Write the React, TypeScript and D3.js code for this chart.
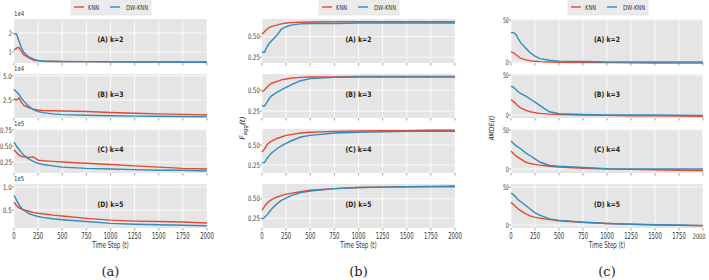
import React from 'react';
import * as d3 from 'd3';

// shared x values (time steps) and labels
const timeSteps = [0, 25, 50, 75, 100, 150, 200, 250, 300, 400, 500, 750, 1000, 1250, 1500, 1750, 2000];
const xTicks = [0, 250, 500, 750, 1000, 1250, 1500, 1750, 2000];
const seriesNames = ['KNN', 'DW-KNN'];
const panelTitles = ['(A) k=2', '(B) k=3', '(C) k=4', '(D) k=5'];
const captions = ['(a)', '(b)', '(c)'];

// (a) error, in units of the offset (1e4 / 1e5)
const errKnnK2 = [1.1, 1.2, 1.25, 1.05, 0.85, 0.7, 0.58, 0.53, 0.51, 0.5, 0.49, 0.49, 0.48, 0.48, 0.48, 0.48, 0.48];
const errDwK2 = [1.95, 1.95, 1.6, 1.25, 1.0, 0.75, 0.62, 0.56, 0.53, 0.51, 0.5, 0.49, 0.48, 0.47, 0.47, 0.46, 0.46];
const errKnnK3 = [2.6, 2.5, 2.7, 2.3, 1.95, 1.7, 1.55, 1.45, 1.4, 1.37, 1.35, 1.3, 1.2, 1.12, 1.05, 1.0, 0.94];
const errDwK3 = [3.6, 3.35, 3.1, 2.7, 2.4, 1.85, 1.5, 1.3, 1.18, 1.05, 0.97, 0.9, 0.85, 0.82, 0.8, 0.77, 0.74];
const errKnnK4 = [0.44, 0.4, 0.36, 0.34, 0.33, 0.32, 0.33, 0.28, 0.27, 0.26, 0.25, 0.23, 0.21, 0.19, 0.17, 0.15, 0.14];
const errDwK4 = [0.56, 0.5, 0.45, 0.4, 0.36, 0.3, 0.26, 0.23, 0.21, 0.19, 0.17, 0.15, 0.14, 0.13, 0.12, 0.12, 0.11];
const errKnnK5 = [0.67, 0.6, 0.55, 0.52, 0.5, 0.48, 0.45, 0.43, 0.42, 0.39, 0.37, 0.32, 0.28, 0.26, 0.25, 0.24, 0.22];
const errDwK5 = [0.82, 0.72, 0.62, 0.55, 0.5, 0.43, 0.39, 0.36, 0.34, 0.31, 0.29, 0.25, 0.21, 0.19, 0.18, 0.17, 0.16];

// (b) F_agg(t)
const fKnnK2 = [0.53, 0.56, 0.59, 0.61, 0.625, 0.64, 0.655, 0.665, 0.67, 0.675, 0.678, 0.68, 0.68, 0.68, 0.68, 0.68, 0.68];
const fDwK2 = [0.31, 0.31, 0.37, 0.42, 0.45, 0.51, 0.59, 0.62, 0.64, 0.655, 0.66, 0.66, 0.665, 0.665, 0.665, 0.665, 0.665];
const fKnnK3 = [0.48, 0.5, 0.53, 0.56, 0.58, 0.6, 0.62, 0.63, 0.64, 0.65, 0.655, 0.655, 0.66, 0.66, 0.66, 0.66, 0.66];
const fDwK3 = [0.31, 0.31, 0.35, 0.4, 0.43, 0.47, 0.5, 0.53, 0.56, 0.61, 0.635, 0.65, 0.655, 0.655, 0.655, 0.655, 0.655];
const fKnnK4 = [0.41, 0.45, 0.5, 0.53, 0.55, 0.58, 0.6, 0.62, 0.63, 0.65, 0.66, 0.67, 0.675, 0.68, 0.68, 0.685, 0.685];
const fDwK4 = [0.28, 0.28, 0.33, 0.37, 0.4, 0.45, 0.49, 0.52, 0.55, 0.6, 0.62, 0.65, 0.66, 0.665, 0.67, 0.67, 0.67];
const fKnnK5 = [0.35, 0.4, 0.44, 0.47, 0.49, 0.52, 0.54, 0.56, 0.57, 0.59, 0.61, 0.63, 0.645, 0.65, 0.655, 0.66, 0.665];
const fDwK5 = [0.24, 0.26, 0.29, 0.33, 0.37, 0.43, 0.48, 0.51, 0.54, 0.58, 0.6, 0.63, 0.645, 0.65, 0.655, 0.655, 0.655];

// (c) AMDE(t)
const amdeKnnK2 = [12, 11, 9, 6.5, 4.5, 2.5, 1.5, 0.8, 0.4, 0, -0.3, -0.6, -0.8, -1, -1.2, -1.3, -1.4];
const amdeDwK2 = [35, 35, 33, 28, 23, 17, 11, 7, 4, 2, 1, 0.5, 0, 0, 0, 0, 0];
const amdeKnnK3 = [19, 17, 14, 11, 9, 6, 4, 3, 2, 1, 0.5, 0, -0.5, -1, -1.2, -1.5, -1.8];
const amdeDwK3 = [36, 35, 32, 29, 27, 24, 20, 16, 12, 4, 1.5, 0.5, 0, 0, 0, -0.3, -0.5];
const amdeKnnK4 = [23, 20, 17, 15, 13, 9, 7, 6, 5, 3.5, 2.5, 1, 0, -0.5, -1, -1.5, -2];
const amdeDwK4 = [36, 33, 30, 28, 26, 21, 17, 13, 9, 4.5, 3.5, 2, 0.5, 0, 0, 0, 0];
const amdeKnnK5 = [30, 27, 24, 21, 19, 15, 12, 10, 9, 7, 5.5, 3.5, 2, 1, 0, -0.5, -1];
const amdeDwK5 = [42, 40, 37, 33, 31, 26, 21, 16, 13, 8, 6, 3.5, 2, 1, 0.5, 0, -0.5];

// y axes per panel
const errDomains = [[0.42, 2.74], [0.62, 5.2], [0.078, 0.766], [0.11, 1.065]];
const errTicks = [[1, 2], [2.5, 5.0], [0.25, 0.5, 0.75], [0.5, 1.0]];
const errTickLabels = [['1', '2'], ['2.5', '5.0'], ['0.25', '0.50', '0.75'], ['0.5', '1.0']];
const errOffsets = ['1e4', '1e4', '1e5', '1e5'];
const fDomains = [[0.18, 0.714], [0.167, 0.69], [0.15, 0.7], [0.125, 0.69]];
const fTicks = [0.25, 0.5];
const fTickLabels = ['0.25', '0.50'];
const amdeDomains = [[-1.2, 51.2], [-3.8, 51.3], [-5.1, 51.3], [-4, 54]];
const amdeTicks = [0, 50];
const amdeTickLabels = ['0', '50'];

const RED = '#E24A33';
const BLUE = '#348ABD';
const BG = '#E5E5E5';
const FONT = "'DejaVu Sans', sans-serif";

const W = 709;
const H = 280;
const colLeft = [14, 262, 511];
const colWidth = [193, 193, 192];
const panelTop = [19, 74, 129, 184];
const panelH = 44;
const xPerChar = 3.4;

// squeeze the glyphs, the original font is a narrow one
const narrow = (text, perChar) => ({
	textLength: text.length * perChar,
	lengthAdjust: 'spacingAndGlyphs',
});

const columns = [
	{
		series: [[errKnnK2, errDwK2], [errKnnK3, errDwK3], [errKnnK4, errDwK4], [errKnnK5, errDwK5]],
		domains: errDomains,
		ticks: errTicks,
		tickLabels: errTickLabels,
		offsets: errOffsets,
	},
	{
		series: [[fKnnK2, fDwK2], [fKnnK3, fDwK3], [fKnnK4, fDwK4], [fKnnK5, fDwK5]],
		domains: fDomains,
		ticks: fDomains.map(() => fTicks),
		tickLabels: fDomains.map(() => fTickLabels),
		offsets: null,
	},
	{
		series: [[amdeKnnK2, amdeDwK2], [amdeKnnK3, amdeDwK3], [amdeKnnK4, amdeDwK4], [amdeKnnK5, amdeDwK5]],
		domains: amdeDomains,
		ticks: amdeDomains.map(() => amdeTicks),
		tickLabels: amdeDomains.map(() => amdeTickLabels),
		offsets: null,
	},
];

const Panel = ({ left, panelW, top, series, domain, ticks, tickLabels, offset, row }) => {
	const x = d3.scaleLinear().domain([0, 2000]).range([left, left + panelW]);
	const y = d3.scaleLinear().domain(domain).range([top + panelH, top]);
	const line = d3.line<number>()
		.x((d, i) => x(timeSteps[i]))
		.y((d) => y(d));
	const isBottom = row === 3;

	return (
		<g>
			<rect x={ left } y={ top } width={ panelW } height={ panelH } fill={ BG }/>
			{xTicks.map((t) => {
				const label = String(t);
				const half = (label.length * xPerChar) / 2;
				// the last label would run off the page, pin it inside the edge
				const atEdge = x(t) + half > W - 3;

				return (
					<g key={ `x${ t }` }>
						<line x1={ x(t) } x2={ x(t) } y1={ top } y2={ top + panelH } stroke="#fff" strokeWidth={ 0.8 }/>
						<line x1={ x(t) } x2={ x(t) } y1={ top + panelH } y2={ top + panelH + 2.5 } stroke="#666" strokeWidth={ 0.6 }/>
						{isBottom && (
							<text x={ atEdge ? W - 3.5 : x(t) } y={ top + panelH + 11 } fontSize={ atEdge ? 7.5 : 8 }
								textAnchor={ atEdge ? 'end' : 'middle' } fill="#333"
								{ ...narrow(label, atEdge ? 3.2 : xPerChar) }>{label}</text>
						)}
					</g>
				);
			})}
			{ticks.map((v, i) => (
				<g key={ `y${ v }` }>
					<line x1={ left } x2={ left + panelW } y1={ y(v) } y2={ y(v) } stroke="#fff" strokeWidth={ 0.8 }/>
					<line x1={ left - 2.5 } x2={ left } y1={ y(v) } y2={ y(v) } stroke="#666" strokeWidth={ 0.6 }/>
					<text x={ left - 2.3 } y={ y(v) + 2.7 } fontSize={ 7.5 } textAnchor="end" fill="#333"
						{ ...narrow(tickLabels[i], 2.9) }>{tickLabels[i]}</text>
				</g>
			))}
			{offset && (
				<text x={ left } y={ top - 3 } fontSize={ 7 } fill="#333" { ...narrow(offset, 3.4) }>{offset}</text>
			)}
			{series.map((vals, i) => (
				<path key={ `s${ i }` } d={ line(vals) } fill="none" stroke={ i === 0 ? RED : BLUE } strokeWidth={ 1.4 }/>
			))}
			<text x={ left + (panelW / 2) } y={ top + 22.5 } fontSize={ 7.5 } fontWeight="bold" textAnchor="middle" fill="#222"
				{ ...narrow(panelTitles[row], 3.7) }>{panelTitles[row]}</text>
			{isBottom && (
				<text x={ left + (panelW / 2) } y={ top + panelH + 19.5 } fontSize={ 8 } textAnchor="middle" fill="#333"
					{ ...narrow('Time Step (t)', 2.8) }>Time Step (t)</text>
			)}
		</g>
	);
};

const Legend = ({ left }) => {
	const lx = left + 57;

	return (
		<g>
			<rect x={ lx } y={ -3 } width={ 80 } height={ 18 } fill="#EBEBEB" stroke="#DDD" strokeWidth={ 0.6 }/>
			<line x1={ lx + 3 } x2={ lx + 13 } y1={ 7 } y2={ 7 } stroke={ RED } strokeWidth={ 1.4 }/>
			<text x={ lx + 17 } y={ 9.5 } fontSize={ 7 } fill="#333" { ...narrow(seriesNames[0], 3.7) }>{seriesNames[0]}</text>
			<line x1={ lx + 39 } x2={ lx + 49 } y1={ 7 } y2={ 7 } stroke={ BLUE } strokeWidth={ 1.4 }/>
			<text x={ lx + 55 } y={ 9.5 } fontSize={ 7 } fill="#333" { ...narrow(seriesNames[1], 3.7) }>{seriesNames[1]}</text>
		</g>
	);
};

const App = () => (
	<svg width={ W } height={ H } style={ { position: 'absolute', left: 0, top: 0, background: '#fff' } } fontFamily={ FONT }>
		{columns.map((col, c) => (
			<g key={ `c${ c }` }>
				<Legend left={ colLeft[c] }/>
				{col.series.map((s, r) => (
					<Panel
						key={ `p${ r }` }
						left={ colLeft[c] }
						panelW={ colWidth[c] }
						top={ panelTop[r] }
						series={ s }
						domain={ col.domains[r] }
						ticks={ col.ticks[r] }
						tickLabels={ col.tickLabels[r] }
						offset={ col.offsets ? col.offsets[r] : null }
						row={ r }
					/>
				))}
				<text
					x={ colLeft[c] + (colWidth[c] / 2) }
					y={ 276 }
					fontSize={ 13 }
					fontFamily="'DejaVu Serif', 'Liberation Serif', serif"
					textAnchor="middle"
					fill="#222"
				>{captions[c]}</text>
			</g>
		))}
		<text transform="translate(245,128) rotate(-90)" fontSize={ 7.5 } fontStyle="italic" textAnchor="middle" fill="#222">
			F<tspan fontSize={ 5.5 } dy={ 2 }>agg</tspan><tspan dy={ -2 }>(t)</tspan>
		</text>
		<text transform="translate(494,128) rotate(-90)" fontSize={ 7 } fontStyle="italic" textAnchor="middle" fill="#222"
			{ ...narrow('AMDE(t)', 3.6) }>AMDE(t)</text>
	</svg>
);

export default App;
